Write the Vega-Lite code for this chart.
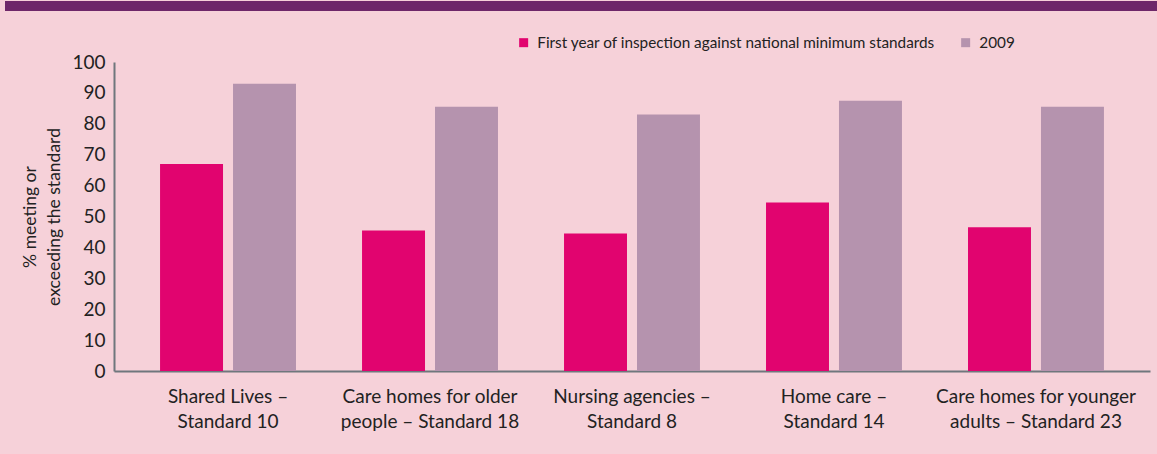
{
  "$schema": "https://vega.github.io/schema/vega-lite/v6.json",
  "background": "#f6d1d9",
  "padding": {"left": 5, "top": 0, "right": 0, "bottom": 30},
  "spacing": 42,
  "config": {
    "font": "Lato",
    "view": {"stroke": null},
    "axis": {"labelColor": "#222222", "titleColor": "#222222", "labelFont": "Lato", "titleFont": "Lato"},
    "legend": {"labelFont": "Lato"}
  },
  "datasets": {
    "bars": [
      {"category": "Shared Lives –\nStandard 10", "series": "First year of inspection against national minimum standards", "value": 67},
      {"category": "Shared Lives –\nStandard 10", "series": "2009", "value": 93},
      {"category": "Care homes for older\npeople – Standard 18", "series": "First year of inspection against national minimum standards", "value": 45.5},
      {"category": "Care homes for older\npeople – Standard 18", "series": "2009", "value": 85.5},
      {"category": "Nursing agencies –\nStandard 8", "series": "First year of inspection against national minimum standards", "value": 44.5},
      {"category": "Nursing agencies –\nStandard 8", "series": "2009", "value": 83},
      {"category": "Home care –\nStandard 14", "series": "First year of inspection against national minimum standards", "value": 54.5},
      {"category": "Home care –\nStandard 14", "series": "2009", "value": 87.5},
      {"category": "Care homes for younger\nadults – Standard 23", "series": "First year of inspection against national minimum standards", "value": 46.5},
      {"category": "Care homes for younger\nadults – Standard 23", "series": "2009", "value": 85.5}
    ],
    "blank": [{"label": ""}]
  },
  "vconcat": [
    {
      "width": 1152,
      "height": 10,
      "view": {"fill": "#6e2769", "stroke": null},
      "data": {"name": "blank"},
      "mark": {"type": "text"},
      "encoding": {"text": {"field": "label", "type": "nominal"}}
    },
    {
      "spacing": 15,
      "hconcat": [
        {
          "width": 1,
          "height": 1,
          "view": {"fill": null, "stroke": null},
          "data": {"name": "blank"},
          "mark": {"type": "text"},
          "encoding": {"text": {"field": "label", "type": "nominal"}}
        },
        {
          "width": 1036,
          "height": 309,
          "data": {"name": "bars"},
          "mark": {"type": "bar"},
          "encoding": {
            "x": {
              "field": "category", "type": "nominal", "sort": null,
              "scale": {"paddingInner": 0.327, "paddingOuter": 0.228},
              "axis": {
                "title": null, "labelAngle": 0, "ticks": false,
                "domainColor": "#6f777d", "domainWidth": 2,
                "labelFontSize": 19, "labelLineHeight": 25, "labelPadding": 16,
                "labelLimit": 400,
                "labelExpr": "split(datum.label, '\\n')", "labelBaseline": "top"
              }
            },
            "xOffset": {
              "field": "series", "type": "nominal",
              "sort": ["First year of inspection against national minimum standards", "2009"],
              "scale": {"paddingInner": 0.137, "paddingOuter": 0}
            },
            "y": {
              "field": "value", "type": "quantitative",
              "scale": {"domain": [0, 100], "nice": false},
              "axis": {
                "values": [0, 10, 20, 30, 40, 50, 60, 70, 80, 90, 100],
                "grid": false, "ticks": false,
                "domainColor": "#6f777d", "domainWidth": 2,
                "labelFontSize": 19, "labelPadding": 9,
                "title": ["% meeting or", "exceeding the standard"],
                "titleFontSize": 17.5, "titleFontWeight": "normal",
                "titleLineHeight": 24, "titlePadding": 8
              }
            },
            "color": {
              "field": "series", "type": "nominal",
              "sort": ["First year of inspection against national minimum standards", "2009"],
              "scale": {
                "domain": ["First year of inspection against national minimum standards", "2009"],
                "range": ["#e1046f", "#b593ae"]
              },
              "legend": {
                "title": null, "orient": "none", "direction": "horizontal",
                "legendX": 511, "legendY": 34,
                "symbolType": "square", "symbolSize": 81, "symbolStrokeWidth": 0,
                "labelFontSize": 15.3, "labelColor": "#222222", "labelOffset": 6,
                "labelLimit": 600, "columnPadding": 22
              }
            }
          }
        }
      ]
    }
  ]
}
